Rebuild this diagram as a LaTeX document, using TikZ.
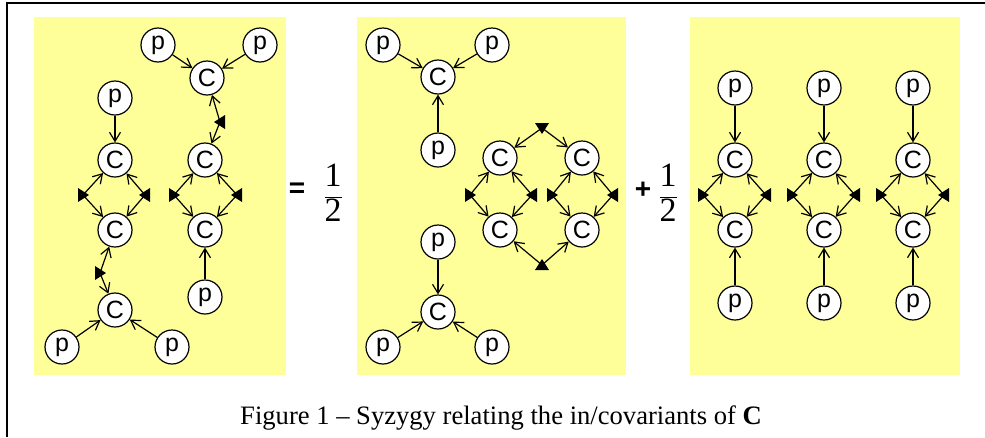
\documentclass[tikz,border=0pt]{standalone}
\usepackage{fontspec}
\setmainfont{Liberation Serif}
\newfontfamily\nodefont{Liberation Sans}
\usepackage{tikz}
\usetikzlibrary{arrows.meta}
\definecolor{panelyellow}{RGB}{255,255,153}

\tikzset{
    ball/.style={draw, circle, fill=white, minimum size=34pt, inner sep=0pt, line width=1.2pt,
        font=\nodefont\fontsize{25}{25}\selectfont},
    link/.style={line width=1.2pt, -{Straight Barb[length=9pt,width=11pt,line width=1.2pt]}},
    tri/.pic={\fill (-5,-7) -- (-5,7) -- (6,0) -- cycle;}
}

\begin{document}
\begin{tikzpicture}[x=1pt,y=-1pt]
    \useasboundingbox (0,0) rectangle (985,437);
    % Frame
    \draw[line width=2.4pt] (7,437) -- (7,3) -- (985,3);

    % Panels
    \fill[panelyellow] (34,17) rectangle (286,375);
    \fill[panelyellow] (357,17) rectangle (626,375);
    \fill[panelyellow] (690,17) rectangle (960,375);

    % Panel 1, left chain
    \node[ball] (p1d) at (115,98) {p};
    \node[ball] (c1d) at (115,160) {C};
    \node[ball] (c1e) at (115,230) {C};
    \node[ball] (c1f) at (115,310) {C};
    \node[ball] (p1e) at (62,347) {p};
    \node[ball] (p1f) at (172,347) {p};
    \coordinate (v1l) at (83,195);
    \coordinate (v1r) at (145,195);
    \coordinate (v1b) at (100,273);
    \draw[link] (p1d) -- (c1d);
    \draw[link] (p1e) -- (c1f);
    \draw[link] (p1f) -- (c1f);
    \draw[link] (v1l) -- (c1d);
    \draw[link] (v1l) -- (c1e);
    \draw[link] (v1r) -- (c1d);
    \draw[link] (v1r) -- (c1e);
    \draw[link] (v1b) -- (c1e);
    \draw[link] (v1b) -- (c1f);
    \pic at (v1l) {tri};
    \pic[rotate=180] at (v1r) {tri};
    \pic at (v1b) {tri};

    % Panel 1, right chain
    \node[ball] (p1a) at (158,45) {p};
    \node[ball] (p1b) at (260,45) {p};
    \node[ball] (c1a) at (207,78) {C};
    \node[ball] (c1b) at (205,160) {C};
    \node[ball] (c1c) at (205,230) {C};
    \node[ball] (p1c) at (205,297) {p};
    \coordinate (v1t) at (220,122);
    \coordinate (v1m) at (174,195);
    \coordinate (v1n) at (237,195);
    \draw[link] (p1a) -- (c1a);
    \draw[link] (p1b) -- (c1a);
    \draw[link] (p1c) -- (c1c);
    \draw[link] (v1t) -- (c1a);
    \draw[link] (v1t) -- (c1b);
    \draw[link] (v1m) -- (c1b);
    \draw[link] (v1m) -- (c1c);
    \draw[link] (v1n) -- (c1b);
    \draw[link] (v1n) -- (c1c);
    \pic[rotate=180] at (v1t) {tri};
    \pic at (v1m) {tri};
    \pic[rotate=180] at (v1n) {tri};

    % Equals and one half
    \node[font=\nodefont\bfseries\fontsize{28}{28}\selectfont] (eq) at (297,190) {=};
    \node[font=\fontsize{34}{34}\selectfont] (half1) at (333,193) {$\displaystyle\frac{\hbox{1}}{\hbox{2}}$};

    % Panel 2, two stars
    \node[ball] (p2a) at (383,45) {p};
    \node[ball] (p2b) at (492,45) {p};
    \node[ball] (c2a) at (438,77) {C};
    \node[ball] (p2c) at (438,150) {p};
    \draw[link] (p2a) -- (c2a);
    \draw[link] (p2b) -- (c2a);
    \draw[link] (p2c) -- (c2a);
    \node[ball] (p2d) at (438,242) {p};
    \node[ball] (c2b) at (438,312) {C};
    \node[ball] (p2e) at (383,347) {p};
    \node[ball] (p2f) at (492,347) {p};
    \draw[link] (p2d) -- (c2b);
    \draw[link] (p2e) -- (c2b);
    \draw[link] (p2f) -- (c2b);

    % Panel 2, ring
    \node[ball] (c2c) at (500,158) {C};
    \node[ball] (c2d) at (582,158) {C};
    \node[ball] (c2e) at (500,230) {C};
    \node[ball] (c2f) at (582,230) {C};
    \coordinate (v2t) at (542,128);
    \coordinate (v2b) at (542,265);
    \coordinate (v2a) at (470,195);
    \coordinate (v2c) at (532,195);
    \coordinate (v2d) at (552,195);
    \coordinate (v2e) at (613,195);
    \draw[link] (v2t) -- (c2c);
    \draw[link] (v2t) -- (c2d);
    \draw[link] (v2b) -- (c2e);
    \draw[link] (v2b) -- (c2f);
    \draw[link] (v2a) -- (c2c);
    \draw[link] (v2a) -- (c2e);
    \draw[link] (v2c) -- (c2c);
    \draw[link] (v2c) -- (c2e);
    \draw[link] (v2d) -- (c2d);
    \draw[link] (v2d) -- (c2f);
    \draw[link] (v2e) -- (c2d);
    \draw[link] (v2e) -- (c2f);
    \pic[rotate=-90] at (v2t) {tri};
    \pic[rotate=90] at (v2b) {tri};
    \pic at (v2a) {tri};
    \pic[rotate=180] at (v2c) {tri};
    \pic at (v2d) {tri};
    \pic[rotate=180] at (v2e) {tri};

    % Plus and one half
    \node[font=\nodefont\bfseries\fontsize{28}{28}\selectfont] (plus) at (643,190) {+};
    \node[font=\fontsize{34}{34}\selectfont] (half2) at (668,193) {$\displaystyle\frac{\hbox{1}}{\hbox{2}}$};

    % Panel 3, three columns
    \foreach \x [count=\i] in {735,824,913} {
        \node[ball] (p3t\i) at (\x,88) {p};
        \node[ball] (c3t\i) at (\x,160) {C};
        \node[ball] (c3b\i) at (\x,230) {C};
        \node[ball] (p3b\i) at (\x,303) {p};
        \coordinate (v3l\i) at (\x-32,195);
        \coordinate (v3r\i) at (\x+31,195);
        \draw[link] (p3t\i) -- (c3t\i);
        \draw[link] (p3b\i) -- (c3b\i);
        \draw[link] (v3l\i) -- (c3t\i);
        \draw[link] (v3l\i) -- (c3b\i);
        \draw[link] (v3r\i) -- (c3t\i);
        \draw[link] (v3r\i) -- (c3b\i);
        \pic at (v3l\i) {tri};
        \pic[rotate=180] at (v3r\i) {tri};
    }

    % Caption
    \node[font=\fontsize{26.6}{26.6}\selectfont] (caption) at (501,418)
        {Figure 1 -- Syzygy relating the in/covariants of \textbf{C}};
\end{tikzpicture}
\end{document}
